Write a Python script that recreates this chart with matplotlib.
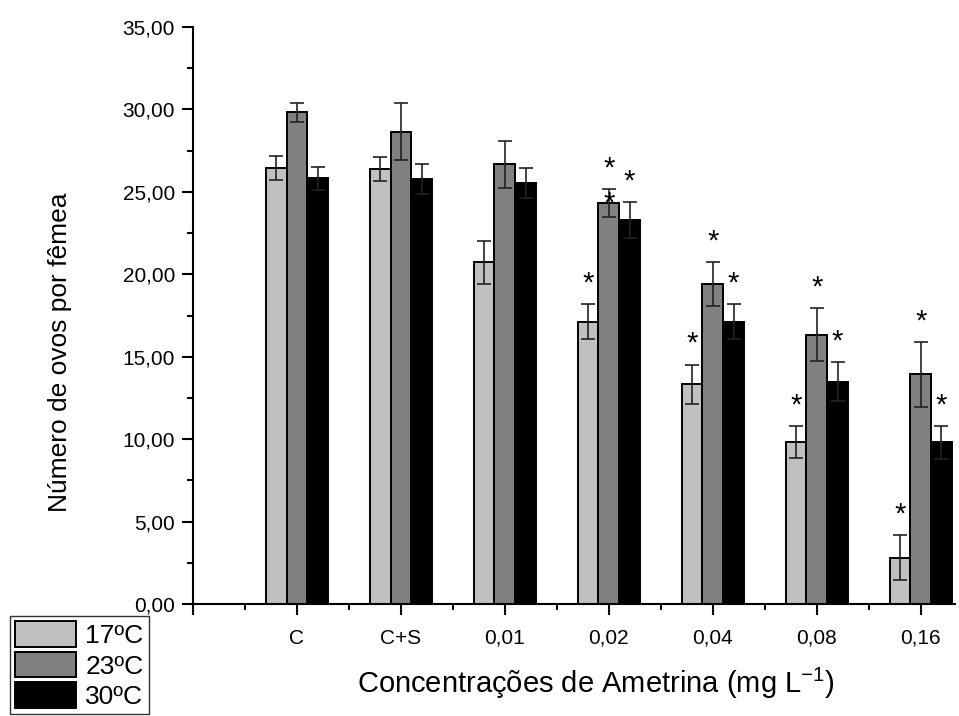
import matplotlib
matplotlib.use('Agg')
import matplotlib.pyplot as plt
from matplotlib.ticker import MultipleLocator, FuncFormatter
import numpy as np

plt.rcParams['font.family'] = ['Liberation Sans', 'DejaVu Sans']

# ── dados ────────────────────────────────────────────────────────
categorias = ['C', 'C+S', '0,01', '0,02', '0,04', '0,08', '0,16']
temperaturas = ['17ºC', '23ºC', '30ºC']

media_17 = [26.42, 26.38, 20.72, 17.12, 13.32, 9.80, 2.81]
media_23 = [29.84, 28.66, 26.66, 24.30, 19.41, 16.33, 13.93]
media_30 = [25.82, 25.77, 25.55, 23.29, 17.12, 13.48, 9.80]

erro_17 = [0.73, 0.75, 1.31, 1.05, 1.19, 0.97, 1.37]
erro_23 = [0.58, 1.70, 1.43, 0.85, 1.31, 1.60, 1.96]
erro_30 = [0.71, 0.93, 0.91, 1.07, 1.05, 1.19, 0.99]

# diferença significativa (*) em relação ao controle
sig_17 = [0, 0, 0, 1, 1, 1, 1]
sig_23 = [0, 0, 0, 1, 1, 1, 1]
sig_30 = [0, 0, 0, 1, 1, 1, 1]

cores = ['#c0c0c0', '#808080', '#000000']

fig = plt.figure(figsize=(9.59, 7.16), dpi=100, facecolor='white')
ax = fig.add_axes([193 / 959, 1 - 604 / 716, (955 - 193) / 959, (604 - 27) / 716])

x = np.arange(1, len(categorias) + 1)
w = 0.2
series = [(media_17, erro_17, sig_17), (media_23, erro_23, sig_23), (media_30, erro_30, sig_30)]

for k, (med, err, sig) in enumerate(series):
    pos = x + (k - 1) * w
    ax.bar(pos, med, width=w, color=cores[k], edgecolor='black', linewidth=1.4,
           label=temperaturas[k], zorder=2)
    ax.errorbar(pos, med, yerr=err, fmt='none', ecolor='#222222', elinewidth=1.2,
                capsize=5, capthick=1.2, zorder=3)
    for p, m, e, s in zip(pos, med, err, sig):
        if s:
            ax.annotate('*', xy=(p, m + e), xytext=(0, 5), textcoords='offset points',
                        ha='center', va='bottom', fontsize=21, zorder=4)

# asterisco extra sobre a barra de 23ºC em 0,02
ax.text(x[3], media_23[3], '*', ha='center', va='center', fontsize=21, zorder=4)

ax.set_xlim(0, 7.33)
ax.set_ylim(0, 35)

ax.spines['top'].set_visible(False)
ax.spines['right'].set_visible(False)
for sp in ('left', 'bottom'):
    ax.spines[sp].set_linewidth(1.5)

ax.set_xticks(np.arange(0, 8))
ax.set_xticklabels([''] + categorias)
ax.xaxis.set_minor_locator(MultipleLocator(0.5))
ax.yaxis.set_major_locator(MultipleLocator(5))
ax.yaxis.set_minor_locator(MultipleLocator(2.5))
ax.yaxis.set_major_formatter(FuncFormatter(lambda v, _: f'{v:.2f}'.replace('.', ',')))

ax.tick_params(axis='both', which='major', direction='out', length=8, width=1.5,
               labelsize=15, pad=5)
ax.tick_params(axis='both', which='minor', direction='out', length=4, width=1.5)
ax.tick_params(axis='x', which='major', pad=10)

ax.set_xlabel('Concentrações de Ametrina (mg L$^{\\mathregular{-1}}$)', fontsize=21)
ax.xaxis.set_label_coords((596 - 193) / 762, -(666 - 604) / 577)
ax.set_ylabel('Número de ovos por fêmea', fontsize=19)
ax.yaxis.set_label_coords(-(193 - 72) / 762, (604 - 352) / 577)

leg = fig.legend(loc='upper left', bbox_to_anchor=(10 / 959, 1 - 616 / 716),
                 fontsize=19, frameon=True, fancybox=False, edgecolor='black',
                 handlelength=2.3, handleheight=1.1, handletextpad=0.35,
                 labelspacing=0.15, borderpad=0.2, borderaxespad=0)
leg.get_frame().set_linewidth(1.0)

fig.savefig('out.png', dpi=100, facecolor='white')
